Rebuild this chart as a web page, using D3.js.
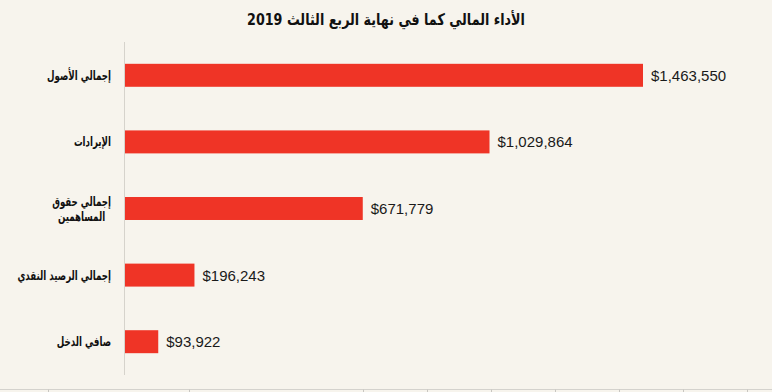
<!DOCTYPE html>
<html>
<head>
<meta charset="utf-8">
<script src="https://cdn.jsdelivr.net/npm/d3@7/dist/d3.min.js"></script>
<style>
  html, body { margin: 0; padding: 0; background: #f7f4ed; }
  svg { display: block; }
</style>
</head>
<body>
<svg id="chart" width="772" height="392"></svg>
<script>
const title = "الأداء المالي كما في نهاية الربع الثالث 2019";
const categories = [
  ["إجمالي الأصول"],
  ["الإيرادات"],
  ["إجمالي حقوق", "المساهمين"],
  ["إجمالي الرصيد النقدي"],
  ["صافي الدخل"]
];
const values = [1463550, 1029864, 671779, 196243, 93922];
// widths of the columns of the (cut-off) panel below the chart
const footerColumns = [48, 141, 174, 64, 64, 64, 64, 64, 64, 25];

const W = 772, H = 392;
const svg = d3.select("#chart");
svg.append("rect").attr("width", W).attr("height", H).attr("fill", "#f7f4ed");

const plot = { left: 125, right: 643, top: 42, bottom: 375 };
const arabicFont = "'DejaVu Sans Condensed', 'DejaVu Sans', sans-serif";

const y = d3.scaleBand()
  .domain(d3.range(values.length))
  .range([plot.top, plot.bottom])
  .paddingInner(0.655)
  .paddingOuter(0.3275);

const x = d3.scaleLinear()
  .domain([0, d3.max(values)])
  .range([plot.left, plot.right]);

// squeeze a text horizontally by k around anchorX (and cap at maxW)
function squeeze(sel, k, maxW, anchorX) {
  const w = sel.node().getComputedTextLength();
  let kk = k;
  if (w * kk > maxW) kk = maxW / w;
  sel.attr("transform", `translate(${anchorX},0) scale(${kk},1) translate(${-anchorX},0)`);
  return w * kk;
}

// title
const titleT = svg.append("text")
  .attr("x", W / 2).attr("y", 25)
  .attr("text-anchor", "middle")
  .attr("direction", "rtl")
  .attr("font-family", arabicFont)
  .attr("font-weight", "bold")
  .attr("font-size", 16)
  .attr("fill", "#111")
  .text(title);
squeeze(titleT, 1, 278, W / 2);

// left axis line
svg.append("line")
  .attr("x1", plot.left - 0.5).attr("x2", plot.left - 0.5)
  .attr("y1", plot.top).attr("y2", plot.bottom)
  .attr("stroke", "#d6d3cc").attr("stroke-width", 1);

// bars
svg.append("g").selectAll("rect")
  .data(values)
  .join("rect")
  .attr("x", x(0))
  .attr("y", (d, i) => y(i))
  .attr("width", d => x(d) - x(0))
  .attr("height", y.bandwidth())
  .attr("fill", "#ef3426");

// value labels
const fmt = d3.format("$,");
svg.append("g").selectAll("text")
  .data(values)
  .join("text")
  .attr("x", d => x(d) + 8)
  .attr("y", (d, i) => y(i) + y.bandwidth() / 2)
  .attr("dy", "0.36em")
  .attr("font-family", "'Liberation Sans', Arial, sans-serif")
  .attr("font-size", 15)
  .attr("fill", "#1a1a1a")
  .text(d => fmt(d));

// category labels
const catG = svg.append("g");
const labelRight = 111;
categories.forEach((lines, i) => {
  const cy = y(i) + y.bandwidth() / 2;
  const lh = 15;
  const y0 = cy - (lines.length - 1) * lh / 2;
  let firstLen = null;
  lines.forEach((ln, j) => {
    const t = catG.append("text")
      .attr("y", y0 + j * lh)
      .attr("dy", "0.35em")
      .attr("direction", "rtl")
      .attr("font-family", arabicFont)
      .attr("font-weight", "bold")
      .attr("font-size", 13)
      .attr("fill", "#111")
      .text(ln);
    if (j === 0) {
      t.attr("x", labelRight).attr("text-anchor", "start");
      firstLen = squeeze(t, 0.74, 104, labelRight);
    } else {
      const cx = labelRight - firstLen / 2;
      t.attr("x", cx).attr("text-anchor", "middle");
      squeeze(t, 0.74, 104, cx);
    }
  });
});

// cut-off footer panel: top border with column dividers
const footerY = 389.5;
svg.append("line")
  .attr("x1", 0).attr("x2", W)
  .attr("y1", footerY).attr("y2", footerY)
  .attr("stroke", "#d4d2cd").attr("stroke-width", 1);
const cum = d3.cumsum(footerColumns).slice(0, -1);
svg.append("g").selectAll("line")
  .data(cum)
  .join("line")
  .attr("x1", d => d + 0.5).attr("x2", d => d + 0.5)
  .attr("y1", footerY).attr("y2", H)
  .attr("stroke", "#c8c6c1").attr("stroke-width", 1);
</script>
</body>
</html>
